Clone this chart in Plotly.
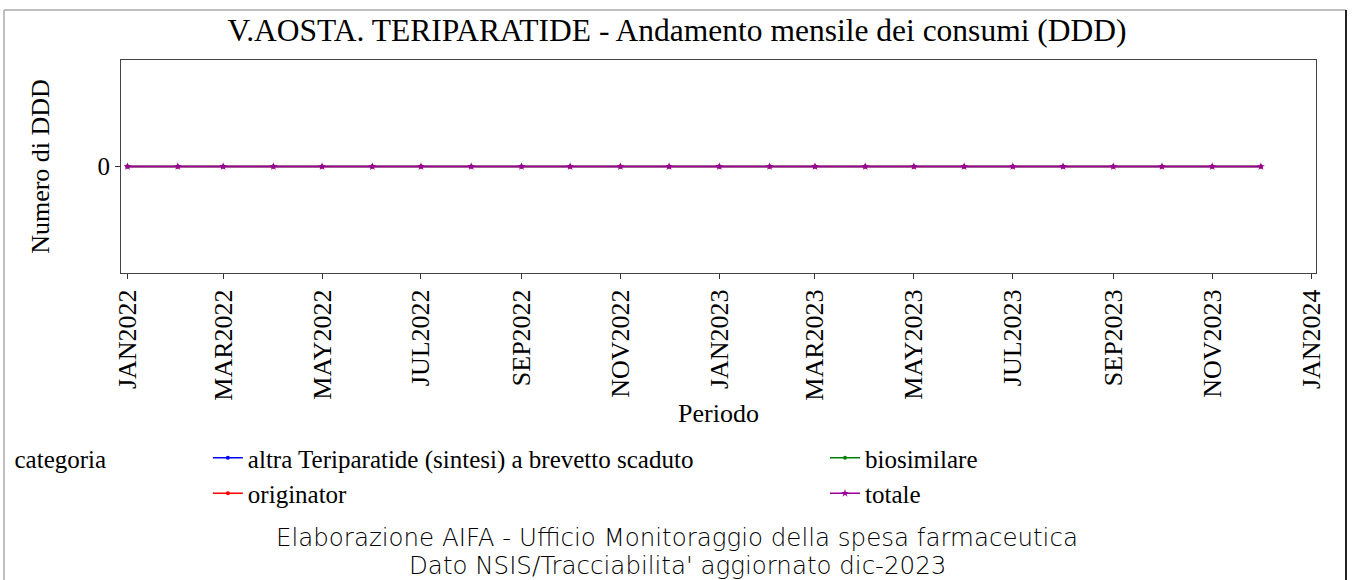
import plotly.graph_objects as go

# ---------------------------------------------------------------------------
# Data (monthly DDD consumption, V.AOSTA - teriparatide)
# ---------------------------------------------------------------------------
MONTHS = [
    "2022-01-01", "2022-02-01", "2022-03-01", "2022-04-01", "2022-05-01", "2022-06-01",
    "2022-07-01", "2022-08-01", "2022-09-01", "2022-10-01", "2022-11-01", "2022-12-01",
    "2023-01-01", "2023-02-01", "2023-03-01", "2023-04-01", "2023-05-01", "2023-06-01",
    "2023-07-01", "2023-08-01", "2023-09-01", "2023-10-01", "2023-11-01", "2023-12-01",
]
ALTRA = [0] * 24
BIOSIMILARE = [0] * 24
ORIGINATOR = [0] * 24
TOTALE = [0] * 24

TICK_VALS = [
    "2022-01-01", "2022-03-01", "2022-05-01", "2022-07-01", "2022-09-01", "2022-11-01",
    "2023-01-01", "2023-03-01", "2023-05-01", "2023-07-01", "2023-09-01", "2023-11-01",
    "2024-01-01",
]
TICK_TEXT = [
    "JAN2022", "MAR2022", "MAY2022", "JUL2022", "SEP2022", "NOV2022",
    "JAN2023", "MAR2023", "MAY2023", "JUL2023", "SEP2023", "NOV2023",
    "JAN2024",
]

# (name, values, colour, marker symbol, marker size, legend column)
SERIES = [
    ("altra Teriparatide (sintesi) a brevetto scaduto", ALTRA, "#0000FF", "circle", 4, "legend"),
    ("biosimilare", BIOSIMILARE, "#008000", "circle", 4, "legend2"),
    ("originator", ORIGINATOR, "#FF0000", "circle", 4, "legend"),
    ("totale", TOTALE, "#990099", "star", 6, "legend2"),
]

SERIF = "Liberation Serif, Times New Roman, serif"
W, H = 1354, 580

fig = go.Figure()

for name, values, color, symbol, size, leg in SERIES:
    fig.add_trace(go.Scatter(
        x=MONTHS,
        y=values,
        mode="lines+markers",
        name=name,
        legend=leg,
        line=dict(color=color, width=1.5),
        marker=dict(color=color, symbol=symbol, size=size),
    ))

# plot area: x 121..1316, y 60..273
L, R, T, B = 121, 38, 60, 307
PW, PH = W - L - R, H - T - B


def px_x(p):
    return (p - L) / PW


def px_y(p):
    return (T + PH - p) / PH


LEGEND_TOP = px_y(435)

fig.update_layout(
    width=W,
    height=H,
    margin=dict(l=L, r=R, t=T, b=B),
    paper_bgcolor="white",
    plot_bgcolor="white",
    font=dict(family=SERIF, color="black", size=24),
    title=dict(
        text="V.AOSTA. TERIPARATIDE - Andamento mensile dei consumi (DDD)",
        font=dict(family=SERIF, size=31.5, color="black"),
        x=0.5, xref="container", xanchor="center",
        y=1 - 30 / H, yref="container", yanchor="middle",
    ),
    xaxis=dict(
        type="date",
        range=["2021-12-28", "2024-01-04"],
        tickvals=TICK_VALS,
        ticktext=TICK_TEXT,
        tickangle=-90,
        tickfont=dict(family=SERIF, size=26),
        ticks="outside", ticklen=5, tickcolor="#333",
        showgrid=False, zeroline=False,
        showline=True, linecolor="#444", linewidth=1, mirror=True,
        title=dict(text="Periodo", font=dict(family=SERIF, size=26), standoff=4),
    ),
    yaxis=dict(
        range=[-1, 1],
        tickvals=[0],
        ticktext=["0"],
        tickfont=dict(family=SERIF, size=25),
        ticks="outside", ticklen=5, tickcolor="#333",
        showgrid=False, zeroline=False,
        showline=True, linecolor="#444", linewidth=1, mirror=True,
        title=dict(text="Numero di DDD", font=dict(family=SERIF, size=26), standoff=40),
    ),
    showlegend=True,
    legend=dict(
        orientation="v",
        x=px_x(12.5), xanchor="left",
        y=LEGEND_TOP, yanchor="top",
        title=dict(text="categoria" + "&nbsp;" * 15, side="left",
                   font=dict(family=SERIF, size=25)),
        font=dict(family=SERIF, size=25),
        traceorder="normal",
        tracegroupgap=0,
        bgcolor="rgba(0,0,0,0)",
    ),
    legend2=dict(
        orientation="v",
        x=px_x(825), xanchor="left",
        y=LEGEND_TOP, yanchor="top",
        font=dict(family=SERIF, size=25),
        traceorder="normal",
        tracegroupgap=0,
        bgcolor="rgba(0,0,0,0)",
    ),
)

# footnotes
FOOTNOTE = dict(family="DejaVu Sans, sans-serif", size=24.5, color="black", weight=200)
fig.add_annotation(
    text="Elaborazione AIFA - Ufficio Monitoraggio della spesa farmaceutica",
    xref="paper", yref="paper", x=px_x(677), y=px_y(537),
    xanchor="center", yanchor="middle", showarrow=False, font=FOOTNOTE,
)
fig.add_annotation(
    text="Dato NSIS/Tracciabilita' aggiornato dic-2023",
    xref="paper", yref="paper", x=px_x(677), y=px_y(565),
    xanchor="center", yanchor="middle", showarrow=False, font=FOOTNOTE,
)

# outer frame of the graphic
fig.add_shape(type="line", xref="paper", yref="paper",
              x0=px_x(4), x1=px_x(4), y0=px_y(600), y1=px_y(10),
              line=dict(color="#aaa", width=1.5))
fig.add_shape(type="line", xref="paper", yref="paper",
              x0=px_x(4), x1=px_x(1346), y0=px_y(10), y1=px_y(10),
              line=dict(color="#aaa", width=1.5))
fig.add_shape(type="line", xref="paper", yref="paper",
              x0=px_x(1346), x1=px_x(1346), y0=px_y(600), y1=px_y(10),
              line=dict(color="#222", width=2))

# page body margin would shift the figure; remove it
fig.write_html(
    "out.html",
    config={"displayModeBar": False},
    post_script="document.body.style.margin='0';",
)
